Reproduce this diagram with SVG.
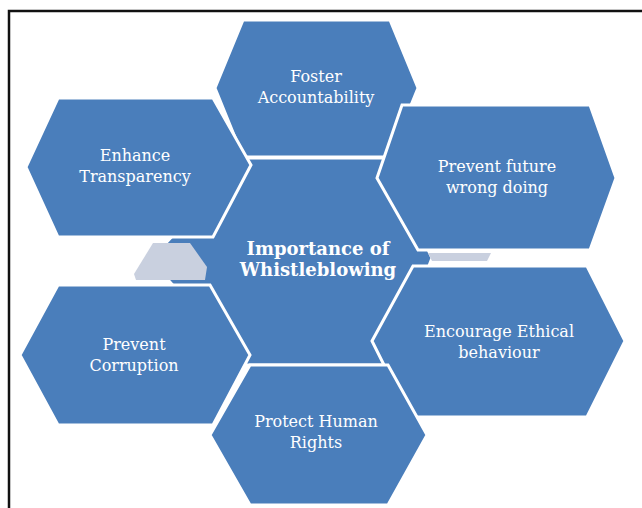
<svg xmlns="http://www.w3.org/2000/svg" width="642" height="508" viewBox="0 0 642 508">
<style>
.hex{fill:#4A7EBB;stroke:#FFFFFF;stroke-width:3;stroke-linejoin:miter}
.ghost{fill:#C9D0DF;stroke:none}
.t{font-family:"DejaVu Serif","Liberation Serif",serif;font-size:16px;fill:#FFFFFF;text-anchor:middle}
.tb{font-family:"DejaVu Serif","Liberation Serif",serif;font-size:18px;font-weight:bold;fill:#FFFFFF;text-anchor:middle}
.frame{stroke:#111111;stroke-width:2.5;fill:none}
</style>
<rect width="642" height="508" fill="#FFFFFF"/>
<path class="frame" d="M9,508 L9,11 L642,11"/>
<g id="center">
<polygon class="hex" points="150,260 245,158 385,158 432,258 390,365 245,365"/>
</g>
<g id="ghosts">
<polygon class="ghost" points="153,243 190,243 207,267 205,280 136,280 134,274"/>
<polygon class="ghost" points="428,253 491,253 487,261 432,261"/>
</g>
<g id="connectors"></g>
<g id="foster">
<polygon class="hex" points="215,88 243,20 390,20 418,88 390,157 243,157"/>
<text class="t" x="316" y="82">Foster</text>
<text class="t" x="316" y="103">Accountability</text>
</g>
<g id="enhance">
<polygon class="hex" points="26,167 58,98 213,98 251,165 213,237 58,237"/>
<text class="t" x="135" y="161">Enhance</text>
<text class="t" x="135" y="182">Transparency</text>
</g>
<g id="prevent-future">
<polygon class="hex" points="377,178 402,105 590,105 616,178 590,250 418,250"/>
<text class="t" x="497" y="172">Prevent future</text>
<text class="t" x="497" y="193">wrong doing</text>
</g>
<g id="center-label">
<text class="tb" x="318" y="255">Importance of</text>
<text class="tb" x="318" y="276">Whistleblowing</text>
</g>
<g id="prevent-corruption">
<polygon class="hex" points="20,355 58,285 210,285 250,355 213,425 58,425"/>
<text class="t" x="134" y="350">Prevent</text>
<text class="t" x="134" y="371">Corruption</text>
</g>
<g id="encourage">
<polygon class="hex" points="372,341 413,266 587,266 625,341 587,417 410,417"/>
<text class="t" x="499" y="337">Encourage Ethical</text>
<text class="t" x="499" y="358">behaviour</text>
</g>
<g id="protect">
<polygon class="hex" points="210,435 250,365 388,365 427,435 388,505 250,505"/>
<text class="t" x="316" y="427">Protect Human</text>
<text class="t" x="316" y="448">Rights</text>
</g>
</svg>
